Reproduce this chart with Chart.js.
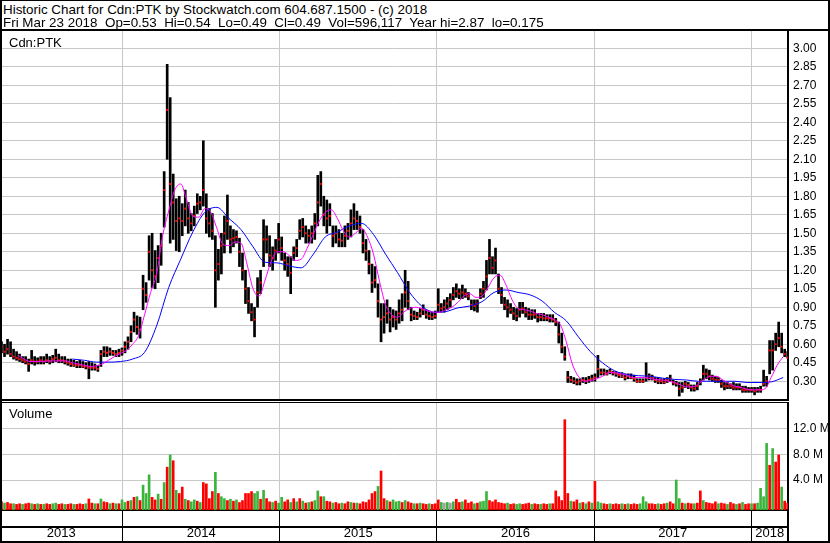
<!DOCTYPE html>
<html lang="en">
<head>
<meta charset="UTF-8">
<title>Cdn:PTK Historic Chart</title>
<script src="https://cdn.jsdelivr.net/npm/chart.js@4.4.2/dist/chart.umd.min.js"></script>
<style>
  body{ margin:0; background:#fff; }
  .wrap{ position:relative; width:830px; height:543px; overflow:hidden; background:#fff;
         font-family:"Liberation Sans", Arial, sans-serif; color:#000; }
  .head{ position:absolute; left:3px; font-size:13.4px; line-height:13px; white-space:pre; }
  .lbl{ position:absolute; left:9px; font-size:13px; line-height:13px; }
  .ln{ position:absolute; background:#000; }
  canvas{ position:absolute; left:0; }
</style>
</head>
<body>
<div class="wrap">
  <canvas id="price" width="830" height="369" style="top:31px"></canvas>
  <canvas id="vol" width="830" height="140" style="top:403px"></canvas>

  <div class="head" style="top:3px">Historic Chart for Cdn:PTK by Stockwatch.com 604.687.1500 - (c) 2018</div>
  <div class="head" style="top:16px">Fri Mar 23 2018  Op=0.53  Hi=0.54  Lo=0.49  Cl=0.49  Vol=596,117  Year hi=2.87  lo=0.175</div>
  <div class="lbl" style="top:36px">Cdn:PTK</div>
  <div class="lbl" style="top:407px">Volume</div>

  <div class="ln" style="left:0;top:0;width:830px;height:1px"></div>
  <div class="ln" style="left:0;top:29px;width:830px;height:2px"></div>
  <div class="ln" style="left:0;top:0;width:2px;height:543px"></div>
  <div class="ln" style="left:828px;top:0;width:2px;height:543px"></div>
  <div class="ln" style="left:0;top:399px;width:789px;height:2px"></div>
  <div class="ln" style="left:0;top:402px;width:789px;height:1px"></div>
  <div class="ln" style="left:0;top:526px;width:789px;height:2px"></div>
  <div class="ln" style="left:787px;top:509px;width:2px;height:34px"></div>
  <div class="ln" style="left:0;top:541px;width:830px;height:2px"></div>
</div>

<script>
// weekly bars, first week starts Fri Mar 22 2013
const chartStart = Date.UTC(2013, 2, 22);
const weekSpan = 261.6;
const years = ['2013', '2014', '2015', '2016', '2017', '2018'];
const priceTicks = [0.30, 0.45, 0.60, 0.75, 0.90, 1.05, 1.20, 1.35, 1.50, 1.65, 1.80, 1.95, 2.10, 2.25, 2.40, 2.55, 2.70, 2.85, 3.00];
const volTicks = [4, 8, 12];

const hi = [
  .62,.60,.64,.62,.56,.54,.52,.50,.50,.48, .55,.50,.49,.50,.50,.52,.50,.51,.56,.52,
  .50,.50,.48,.48,.47,.46,.47,.46,.45,.46, .45,.44,.43,.55,.58,.58,.57,.55,.55,.56,
  .57,.62,.66,.75,.86,.83,.82,1.16,1.10,1.48, 1.50,1.36,1.40,1.50,2.00,2.87,2.60,1.98,1.78,1.80,
  1.74,1.85,1.75,1.66,1.72,1.82,1.80,2.25,1.82,1.70, 1.66,1.48,1.37,1.50,1.64,1.81,1.56,1.53,1.52,1.46,
  1.34,1.20,1.06,.93,.90,1.14,1.20,1.61,1.56,1.48, 1.39,1.45,1.58,1.47,1.34,1.31,1.31,1.39,1.45,1.61,
  1.62,1.56,1.53,1.56,1.66,1.97,2.00,1.80,1.77,1.74, 1.56,1.56,1.53,1.50,1.56,1.58,1.69,1.74,1.68,1.64,
  1.53,1.45,1.36,1.25,1.23,1.09,.93,.93,.96,.90, .88,.87,.96,1.01,1.20,1.11,.90,.87,.86,.89,
  .92,.88,.87,.86,.87,1.05,.93,.96,.98,1.01, 1.06,1.09,1.05,1.08,1.05,1.02,.96,.96,.96,1.05,
  1.11,1.28,1.45,1.31,1.38,1.17,1.06,.98,.96,.93, .90,.89,.94,.94,.90,.89,.88,.88,.85,.85,
  .85,.84,.84,.84,.81,.78,.69,.58,.38,.34, .33,.32,.32,.33,.33,.34,.35,.36,.51,.40,
  .40,.39,.40,.38,.38,.37,.37,.36,.36,.36, .35,.32,.32,.32,.45,.36,.35,.33,.33,.32,
  .32,.33,.35,.31,.30,.29,.29,.30,.29,.27, .27,.29,.32,.43,.40,.39,.35,.34,.33,.31,
  .29,.29,.28,.29,.28,.28,.26,.26,.25,.25, .25,.25,.26,.39,.34,.63,.63,.69,.78,.69,
  .56,.54
];
const lo = [
  .53,.50,.52,.50,.48,.47,.46,.45,.44,.38, .44,.43,.44,.44,.44,.45,.44,.45,.46,.45,
  .45,.44,.43,.42,.42,.41,.41,.41,.40,.32, .39,.39,.38,.42,.50,.50,.51,.51,.50,.50,
  .51,.53,.56,.62,.70,.68,.65,.88,.94,1.12, 1.06,1.05,1.10,1.24,1.55,2.10,1.42,1.45,1.36,1.35,
  1.48,1.56,1.50,1.52,1.56,1.66,1.69,1.72,1.50,1.47, 1.45,.90,1.12,1.17,1.34,1.45,1.34,1.39,1.42,1.23,
  1.12,.93,.85,.79,.66,.90,1.01,1.23,1.34,1.23, 1.20,1.28,1.34,1.28,1.20,1.15,1.01,1.28,1.31,1.45,
  1.47,1.42,1.42,1.42,1.45,1.56,1.72,1.56,1.50,1.56, 1.39,1.42,1.39,1.39,1.39,1.45,1.47,1.53,1.53,1.50,
  1.34,1.28,1.17,1.02,1.06,.82,.62,.69,.77,.70, .74,.72,.77,.79,.90,.88,.79,.80,.80,.82,
  .84,.81,.80,.80,.81,.86,.86,.86,.88,.90, .96,.98,.97,.97,.98,.96,.88,.87,.86,.97,
  .98,1.04,1.17,1.17,1.17,1.01,.93,.88,.82,.85, .80,.79,.82,.85,.82,.80,.80,.81,.78,.79,
  .79,.79,.78,.78,.75,.61,.53,.47,.29,.29, .28,.27,.27,.29,.28,.29,.30,.30,.33,.35,
  .35,.35,.36,.35,.34,.33,.33,.31,.32,.32, .30,.29,.29,.29,.30,.31,.31,.29,.28,.28,
  .28,.29,.30,.27,.26,.18,.21,.25,.24,.22, .22,.23,.27,.31,.32,.31,.30,.29,.29,.25,
  .23,.24,.24,.23,.23,.23,.21,.21,.21,.21, .19,.21,.21,.26,.26,.36,.39,.55,.58,.53,
  .50,.49
];
const close = [
  .58,.54,.56,.52,.50,.49,.48,.47,.46,.44, .47,.46,.46,.47,.46,.47,.46,.48,.49,.47,
  .47,.46,.45,.44,.43,.43,.43,.42,.42,.41, .41,.41,.40,.52,.54,.53,.54,.53,.52,.53,
  .55,.58,.62,.70,.80,.74,.72,1.05,1.00,1.35, 1.20,1.15,1.30,1.40,1.85,2.50,1.90,1.75,1.60,1.62,
  1.60,1.70,1.62,1.58,1.64,1.74,1.75,1.85,1.62,1.58, 1.52,1.20,1.25,1.40,1.50,1.60,1.45,1.46,1.47,1.35,
  1.20,1.05,.95,.86,.80,1.02,1.10,1.45,1.45,1.32, 1.30,1.36,1.45,1.38,1.28,1.25,1.18,1.34,1.38,1.52,
  1.55,1.50,1.48,1.50,1.58,1.75,1.90,1.65,1.62,1.64, 1.48,1.50,1.45,1.44,1.48,1.52,1.58,1.62,1.60,1.55,
  1.42,1.36,1.25,1.10,1.12,.95,.80,.82,.85,.80, .82,.80,.85,.88,1.02,.95,.84,.83,.82,.85,
  .88,.84,.83,.82,.83,.92,.89,.90,.93,.96, 1.00,1.03,1.01,1.02,1.01,.99,.92,.91,.93,1.01,
  1.05,1.15,1.30,1.22,1.28,1.05,1.00,.92,.90,.88, .85,.83,.88,.89,.86,.84,.84,.84,.82,.82,
  .81,.81,.81,.80,.78,.68,.58,.50,.33,.31, .30,.29,.30,.31,.30,.31,.32,.33,.40,.37,
  .37,.36,.38,.37,.36,.35,.34,.33,.34,.33, .32,.30,.30,.30,.33,.34,.33,.31,.30,.30,
  .29,.31,.32,.29,.28,.24,.25,.28,.27,.25, .24,.26,.30,.36,.36,.34,.32,.31,.31,.28,
  .26,.26,.26,.25,.25,.25,.23,.23,.23,.23, .22,.23,.23,.28,.30,.55,.55,.60,.65,.58,
  .52,.49
];
// weekly peak volume, millions
const vol = [
  .6,.4,.5,.3,.3,.2,.3,.2,.3,.4, .3,.2,.3,.2,.2,.3,.2,.3,.4,.2,
  .3,.2,.2,.3,.2,.2,.3,.2,.3,1.05, .4,.3,.3,1.05,.6,.5,.3,.4,.3,.3,
  .9,.5,.7,.8,1.3,1.4,.8,3.2,1.9,4.8, 1.3,.9,1.8,1.0,3.6,6.0,7.9,7.0,2.4,1.9,
  2.9,1.0,.8,.6,.9,.7,.5,3.6,3.4,1.1, 2.2,5.2,1.9,1.4,1.1,.8,1.0,.7,.9,.5,
  .8,1.9,1.9,2.2,1.9,2.2,1.0,2.4,1.1,.6, .5,.7,.4,1.3,.6,.9,.5,1.1,.6,1.1,
  .7,.4,.5,.6,.8,2.3,1.4,1.4,.7,.6, .4,.5,.3,.4,.3,.6,.5,.4,.4,.3,
  .6,.5,.9,1.9,2.2,3.0,5.4,1.1,.8,.6, .9,.6,.7,.5,.8,.6,.4,.3,.3,.4,
  .3,.2,.3,.2,.3,.9,.5,.4,.5,.4, .6,1.0,.5,.6,.9,.4,.6,.3,.4,.6,
  .7,2.2,.8,.6,.9,.5,.4,.3,.4,.2, .3,.2,.3,.2,.3,.4,.2,.3,.2,.2,
  .3,.2,.3,.3,2.3,1.4,.8,13.4,1.9,.7, .6,.9,.4,.5,.3,.6,.4,3.8,.6,.4,
  .3,.2,.3,.2,.3,.2,.3,.2,.3,.2, .3,.2,.3,1.4,.6,.3,.3,.2,.3,.2,
  .3,.4,.6,.3,4.0,1.1,.4,.3,.4,.3, .3,.4,2.3,.8,.5,.4,.3,.6,.3,.4,
  .3,.2,.5,.3,.2,.3,.5,.2,.3,.3, .3,.4,2.7,1.4,9.7,6.3,8.9,6.8,7.9,2.9,
  .7,.4
];
// g = up, r = down, n = unchanged
const volDir =
  'rgrrgrrgrr' + 'grgrgrrggr' + 'rgrrgrrrgr' + 'rgrgrrgrgr' + 'ggrgrgrggg' +
  'rrgrgrgrgr' + 'rgrggrgrrr' + 'rgrggrgrgr' + 'rrrrggrgrr' + 'grggrrgrgr' +
  'grgrggrgrr' + 'grrgrrgrgr' + 'rrrrrgrrgr' + 'gggrgrrgrg' + 'rrgrrrgngn' +
  'grrgrrrgrg' + 'ggrrrrrrgr' + 'rggrrrgrrg' + 'rrgrrrrrrg' + 'rrgrgrgrgg' +
  'rrgrrrgrgr' + 'rrgggrrrgr' + 'rgrrggrgrr' + 'grrgrrrrgr' + 'rgrrgrgrrg' +
  'rggggrgrrg' + 'rr';
// short moving average, one value every 2 weeks
const maShort = [
  null,null,null,0.51,0.48,0.46,0.46,0.46,0.465,0.465,
  0.465,0.465,0.45,0.44,0.43,0.42,0.425,0.44,0.47,0.50,
  0.525,0.55,0.60,0.67,0.84,1.02,1.17,1.48,1.68,1.85,
  1.90,1.77,1.64,1.63,1.70,1.67,1.54,1.41,1.40,1.43,
  1.42,1.25,1.05,0.99,1.12,1.27,1.35,1.35,1.32,1.28,
  1.29,1.38,1.49,1.60,1.67,1.69,1.62,1.52,1.47,1.50,
  1.54,1.47,1.33,1.11,0.92,0.84,0.82,0.86,0.89,0.90,
  0.89,0.87,0.86,0.86,0.88,0.90,0.94,0.99,1.01,0.98,
  0.99,1.06,1.14,1.16,1.08,0.96,0.89,0.88,0.87,0.85,
  0.84,0.82,0.80,0.76,0.62,0.44,0.34,0.30,0.305,0.32,
  0.34,0.37,0.37,0.36,0.35,0.33,0.33,0.33,0.32,0.315,
  0.31,0.30,0.29,0.27,0.255,0.255,0.28,0.32,0.34,0.34,
  0.31,0.28,0.26,0.25,0.235,0.23,0.23,0.24,0.33,0.43,
  0.50
];
// long moving average, one value every 4 weeks
const maLong = [
  null,null,null,null,null,null,0.48,0.47,0.455,0.455,
  0.46,0.48,0.535,0.75,1.06,1.29,1.51,1.67,1.71,1.62,
  1.53,1.39,1.265,1.26,1.235,1.22,1.33,1.47,1.51,1.56,
  1.58,1.49,1.33,1.18,1.02,0.91,0.86,0.865,0.895,0.91,
  0.945,1.02,1.04,1.02,1.00,0.95,0.86,0.79,0.66,0.54,
  0.45,0.385,0.355,0.345,0.34,0.325,0.315,0.31,0.30,0.30,
  0.30,0.30,0.29,0.29,0.295,0.33
];

const GRID = '#c8c8c8';
const CLEAR = 'rgba(0,0,0,0)';
const volColors = { g: '#3cb43c', r: '#ff0000', n: '#a0a0a0' };

Chart.defaults.font.family = '"Liberation Sans", Arial, sans-serif';
Chart.defaults.color = '#000';

const weekOf = d => (d - chartStart) / 864e5 / 7;
const yearStart = years.map(y => weekOf(Date.UTC(+y, 0, 1)));
yearStart[0] = 0;
const bounds = yearStart.slice(1);
const xTicks = [];
years.forEach((y, i) => {
  const end = i < years.length - 1 ? yearStart[i + 1] : weekSpan;
  xTicks.push({ v: (yearStart[i] + end) / 2, l: y });
});
bounds.forEach(b => xTicks.push({ v: b, l: '' }));
xTicks.sort((a, b) => a.v - b.v);

const barData = hi.map((h, i) => ({ x: i + 0.5, y: [lo[i], h] }));
const closeData = close.map((c, i) => ({ x: i + 0.5, y: c }));
const shortData = maShort.map((v, i) => ({ x: i * 2, y: v }));
const longData = maLong.map((v, i) => ({ x: i * 4, y: v }));

const volMin = -0.675;
const volData = vol.map((v, i) => ({ x: i + 0.5, y: [volMin, v] }));
const volBg = vol.map((v, i) => volColors[volDir[i]]);

const base = {
  responsive: false,
  animation: false,
  devicePixelRatio: 1,
  layout: { padding: 0, autoPadding: false },
  plugins: { legend: { display: false }, tooltip: { enabled: false } }
};

new Chart(document.getElementById('price'), {
  type: 'bar',
  data: {
    datasets: [
      { type: 'line', data: shortData, borderColor: '#ff00ff', borderWidth: 1, pointRadius: 0, cubicInterpolationMode: 'monotone' },
      { type: 'line', data: longData, borderColor: '#0000ff', borderWidth: 1, pointRadius: 0, cubicInterpolationMode: 'monotone' },
      { type: 'line', data: closeData, showLine: false, pointStyle: 'rect', pointRadius: 1.4, pointBackgroundColor: '#ff0000', pointBorderWidth: 0 },
      { type: 'bar', data: barData, backgroundColor: '#000', barThickness: 2, grouped: false }
    ]
  },
  options: {
    ...base,
    scales: {
      x: {
        type: 'linear', min: 0, max: weekSpan, offset: false,
        afterBuildTicks: s => { s.ticks = bounds.map(v => ({ value: v })); },
        ticks: { display: false },
        grid: { color: GRID, drawTicks: false, offset: false },
        border: { display: false },
        afterFit: s => { s.height = 0; s.paddingLeft = 0; s.paddingRight = 0; }
      },
      y: {
        position: 'right', min: 0.148, max: 3.14,
        afterBuildTicks: s => { s.ticks = priceTicks.map(v => ({ value: v })); },
        ticks: { padding: 5, font: { size: 12 }, callback: v => v.toFixed(2) },
        grid: { color: GRID, drawTicks: false },
        border: { color: '#000', width: 2 },
        afterFit: s => { s.width = 42; s.paddingTop = 0; s.paddingBottom = 0; }
      }
    }
  }
});

new Chart(document.getElementById('vol'), {
  type: 'bar',
  data: {
    datasets: [{ data: volData, backgroundColor: volBg, barThickness: 2, grouped: false }]
  },
  options: {
    ...base,
    scales: {
      x: {
        type: 'linear', min: 0, max: weekSpan, offset: false,
        afterBuildTicks: s => { s.ticks = xTicks.map(t => ({ value: t.v })); },
        ticks: { autoSkip: false, maxRotation: 0, padding: -17, font: { size: 13 }, callback: (v, i) => xTicks[i].l },
        grid: {
          offset: false,
          color: c => (xTicks[c.index] && xTicks[c.index].l) ? CLEAR : GRID,
          tickColor: c => (xTicks[c.index] && xTicks[c.index].l) ? CLEAR : '#000',
          tickLength: 33
        },
        border: { color: '#000', width: 2 },
        afterFit: s => { s.height = 33; s.paddingLeft = 0; s.paddingRight = 0; }
      },
      y: {
        position: 'right', min: volMin, max: 16.0,
        afterBuildTicks: s => { s.ticks = volTicks.map(v => ({ value: v })); },
        ticks: { padding: 5, font: { size: 12 }, callback: v => v.toFixed(1) + ' M' },
        grid: { color: GRID, drawTicks: false },
        border: { color: '#000', width: 2 },
        afterFit: s => { s.width = 42; s.paddingTop = 0; s.paddingBottom = 0; }
      }
    }
  }
});
</script>
</body>
</html>
